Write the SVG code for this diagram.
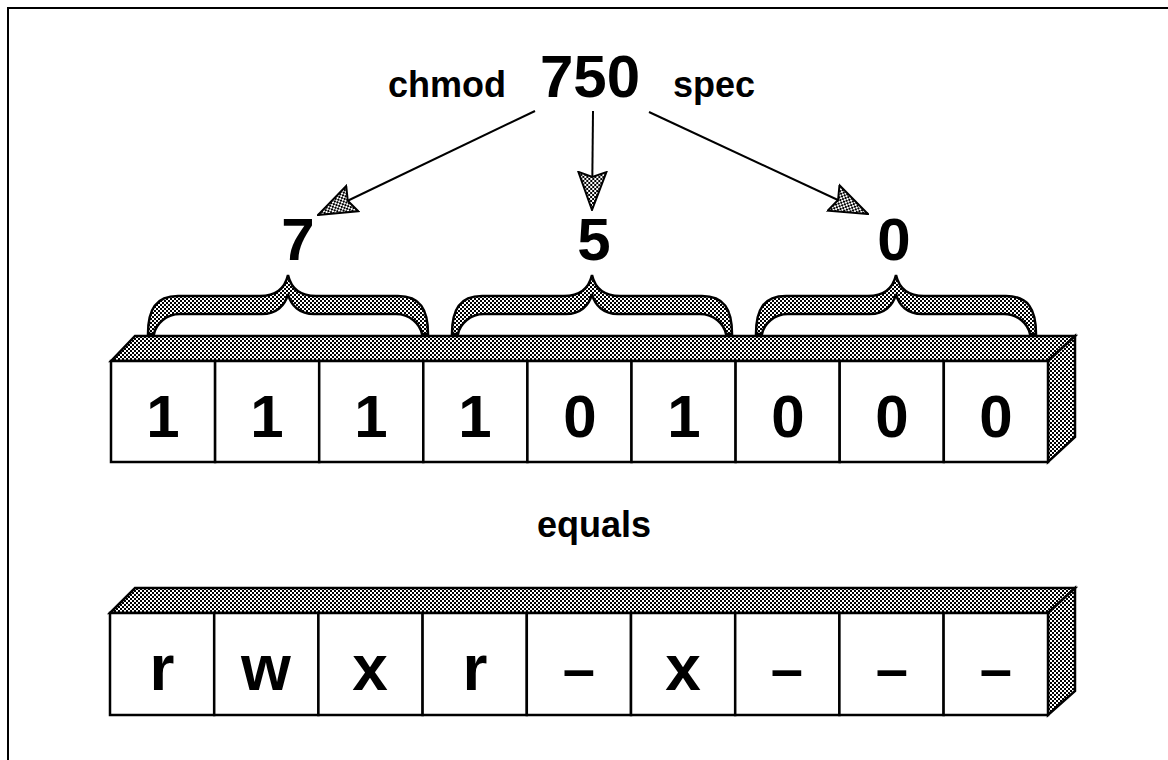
<svg xmlns="http://www.w3.org/2000/svg" width="1168" height="760" viewBox="0 0 1168 760">
  <defs>
    <pattern id="dots" width="4" height="4" patternUnits="userSpaceOnUse">
      <rect width="4" height="4" fill="#fff"/>
      <rect width="2" height="2" fill="#000"/>
      <rect x="2" y="2" width="2" height="2" fill="#000"/>
    </pattern>
    <marker id="head" markerUnits="userSpaceOnUse" markerWidth="40" markerHeight="32" viewBox="-1 -16 40 32" refX="38" refY="0" orient="auto">
      <path d="M0,-14 L38,0 L0,14 L5,0 Z" fill="url(#dots)" stroke="#000" stroke-width="2" stroke-linejoin="miter"/>
    </marker>
    <path id="brace" d="M0,334 C0,309 8,296 30,296 L112,296 C128,296 137,288 140,275 C143,288 152,296 168,296 L250,296 C272,296 280,309 280,334 L274,334 C272,324 262,314 248,314 L166,314 C152,314 143,306 140,294 C137,306 128,314 114,314 L32,314 C18,314 8,324 6,334 Z"/>
  </defs>
  <style>
    .t { font-family: "Liberation Sans", Arial, sans-serif; font-weight: bold; fill: #000; text-anchor: middle; }
    .big { font-size: 60px; }
    .lbl { font-size: 36px; }
    .let { font-size: 64px; }
    .dash { font-size: 58px; }
    .shade { fill: url(#dots); stroke: #000; stroke-width: 2.5; stroke-linejoin: miter; }
    .cell { fill: #fff; stroke: #000; stroke-width: 2.5; }
    .conn { stroke: #000; stroke-width: 2; fill: none; }
    .frame { stroke: #000; stroke-width: 2; fill: none; }
  </style>
  <rect width="1168" height="760" fill="#fff"/>
  <path class="frame" d="M8,760 L8,8 L1168,8"/>

  <g id="title">
    <text class="t lbl" x="447" y="97">chmod</text>
    <text class="t big" x="590" y="97">750</text>
    <text class="t lbl" x="714" y="97">spec</text>
  </g>

  <g id="connectors">
    <line class="conn" x1="535" y1="111" x2="318" y2="215" marker-end="url(#head)"/>
    <line class="conn" x1="593" y1="111" x2="592" y2="210" marker-end="url(#head)"/>
    <line class="conn" x1="649" y1="112" x2="868" y2="214" marker-end="url(#head)"/>
  </g>

  <g id="octal-7">
    <text class="t big" x="298" y="260">7</text>
    <use href="#brace" class="shade" transform="translate(148,0)"/>
  </g>
  <g id="octal-5">
    <text class="t big" x="594" y="260">5</text>
    <use href="#brace" class="shade" transform="translate(452,0)"/>
  </g>
  <g id="octal-0">
    <text class="t big" x="894" y="260">0</text>
    <use href="#brace" class="shade" transform="translate(756,0)"/>
  </g>

  <g id="binary-bar">
    <polygon class="shade" points="111,361 135,336 1075,336 1048,361"/>
    <polygon class="shade" points="1048,361 1075,336 1075,437 1048,462"/>
    <rect class="cell" x="111" y="361" width="104.1" height="101"/>
    <rect class="cell" x="215.1" y="361" width="104.1" height="101"/>
    <rect class="cell" x="319.2" y="361" width="104.1" height="101"/>
    <rect class="cell" x="423.3" y="361" width="104.1" height="101"/>
    <rect class="cell" x="527.4" y="361" width="104.1" height="101"/>
    <rect class="cell" x="631.5" y="361" width="104.1" height="101"/>
    <rect class="cell" x="735.6" y="361" width="104.1" height="101"/>
    <rect class="cell" x="839.7" y="361" width="104.1" height="101"/>
    <rect class="cell" x="943.8" y="361" width="104.2" height="101"/>
    <text class="t big" x="163" y="437">1</text>
    <text class="t big" x="267" y="437">1</text>
    <text class="t big" x="371" y="437">1</text>
    <text class="t big" x="475" y="437">1</text>
    <text class="t big" x="580" y="437">0</text>
    <text class="t big" x="684" y="437">1</text>
    <text class="t big" x="788" y="437">0</text>
    <text class="t big" x="892" y="437">0</text>
    <text class="t big" x="996" y="437">0</text>
  </g>

  <g id="equals">
    <text class="t lbl" x="594" y="537">equals</text>
  </g>

  <g id="perm-bar">
    <polygon class="shade" points="110,613 135,588 1075,588 1048,613"/>
    <polygon class="shade" points="1048,613 1075,588 1075,691 1048,715"/>
    <rect class="cell" x="110" y="613" width="104.2" height="102"/>
    <rect class="cell" x="214.2" y="613" width="104.2" height="102"/>
    <rect class="cell" x="318.4" y="613" width="104.2" height="102"/>
    <rect class="cell" x="422.6" y="613" width="104.2" height="102"/>
    <rect class="cell" x="526.8" y="613" width="104.2" height="102"/>
    <rect class="cell" x="631" y="613" width="104.2" height="102"/>
    <rect class="cell" x="735.2" y="613" width="104.2" height="102"/>
    <rect class="cell" x="839.4" y="613" width="104.2" height="102"/>
    <rect class="cell" x="943.6" y="613" width="104.4" height="102"/>
    <text class="t let" x="162" y="690">r</text>
    <text class="t let" x="266" y="690">w</text>
    <text class="t let" x="370" y="690">x</text>
    <text class="t let" x="475" y="690">r</text>
    <text class="t dash" x="579" y="689">–</text>
    <text class="t let" x="683" y="690">x</text>
    <text class="t dash" x="787" y="689">–</text>
    <text class="t dash" x="892" y="689">–</text>
    <text class="t dash" x="996" y="689">–</text>
  </g>
</svg>
